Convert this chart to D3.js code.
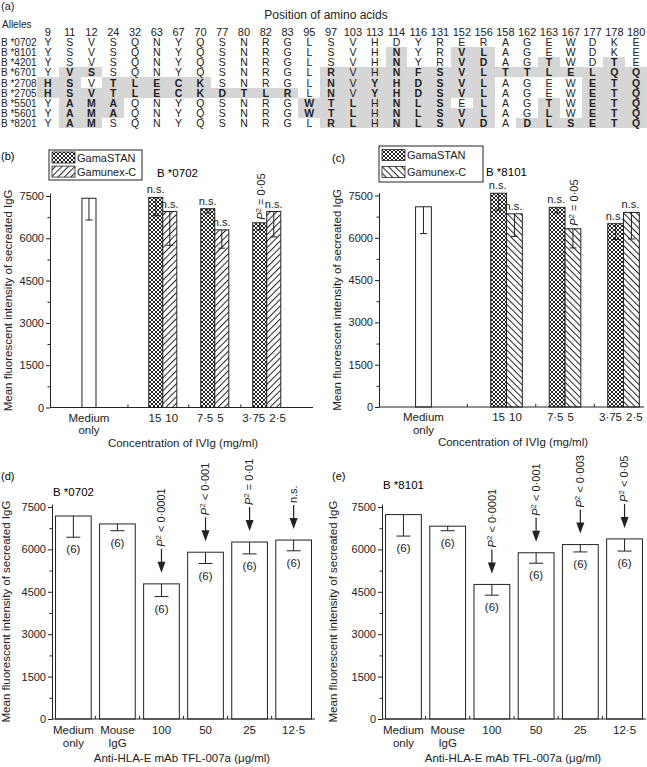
<!DOCTYPE html>
<html><head><meta charset="utf-8">
<script src="https://cdn.jsdelivr.net/npm/d3@7"></script>
<style>body{margin:0;background:#fff}</style>
</head><body><svg id="c" width="647" height="767"></svg>
<script>
// ---------- DATA ----------
const positions = ["9","11","12","24","32","63","67","70","77","80","82","83","95","97","103","113","114","116","131","152","156","158","162","163","167","177","178","180"];
const alleles = ["B *0702","B *8101","B *4201","B *6701","B *2708","B *2705","B *5501","B *5601","B *8201"];
const residues = [
  "YSVSQNYQSNRGLSVHDYRERAGEWDKE",
  "YSVSQNYQSNRGLSVHNYRVLAGEWDKE",
  "YSVSQNYQSNRGLSVHNYRVDAGTWDTE",
  "YVSSQNYQSNRGLRVHNFSVLTTLELQQ",
  "HSVTLECKSNRGLNVYHDSVLAGEWETQ",
  "HSVTLECKDTLRLNVYHDSVLAGEWETQ",
  "YAMAQNYQSNRGWTLHNLSELAGTWETQ",
  "YAMAQNYQSNRGWTLHNLSVLAGLWETQ",
  "YAMSQNYQSNRGLRLHNLSVDADLSETQ"
];
// 0 = plain, 1 = shaded + bold, 2 = shaded + regular
const highlight = [
  "0000000000000000000000000000",
  "0000000000000000100110000000",
  "0000000000000000100110010010",
  "0110000000000122111111111111",
  "1101111100000121111110000111",
  "1111111111110121111110000111",
  "0111000000001112111010010111",
  "0111000000001112111110010111",
  "0110000000000112111110111111"
];

const gamaConc = ["15","7·5","3·75"];
const gamunexConc = ["10","5","2·5"];
const legendLabels = ["GamaSTAN","Gamunex-C"];

const mediumB = [7420];
const mediumErrB = [770];
const gamaB = [7450, 7050, 6550];
const gamaErrB = [650, 150, 250];
const gamunexB = [6950, 6300, 6950];
const gamunexErrB = [1200, 650, 900];
const notesGamaB = ["n.s.", "n.s.", "P² = 0·05"];
const notesGamunexB = ["n.s.", "n.s.", "n.s."];

const mediumC = [7100];
const mediumErrC = [950];
const gamaC = [7580, 7080, 6500];
const gamaErrC = [600, 200, 560];
const gamunexC = [6850, 6320, 6900];
const gamunexErrC = [800, 680, 940];
const notesGamaC = ["n.s.", "n.s.", "n.s."];
const notesGamunexC = ["n.s.", "P² = 0·05", "n.s."];

const mabCategories = [["Medium","only"],["Mouse","IgG"],["100"],["50"],["25"],["12·5"]];
const mabD = [7180, 6900, 4780, 5900, 6260, 6330];
const mabErrD = [750, 240, 450, 400, 420, 380];
const mabNotesD = ["", "", "P² < 0·0001", "P² < 0·001", "P² = 0·01", "n.s."];
const mabE = [7230, 6820, 4760, 5880, 6170, 6370];
const mabErrE = [760, 160, 380, 370, 260, 430];
const mabNotesE = ["", "", "P² < 0·0001", "P² < 0·001", "P² < 0·003", "P² < 0·05"];
const sampleN = [6, 6, 6, 6, 6, 6];

const yTicks = [0, 1500, 3000, 4500, 6000, 7500];
const yMinorTicks = [750, 2250, 3750, 5250, 6750];

// ---------- SETUP ----------
const FONT = "'Liberation Sans', Arial, Helvetica, sans-serif";
const INK = "#222";
const svg = d3.select("#c").attr("font-family", FONT).style("font-family", FONT);
svg.append("rect").attr("width",647).attr("height",767).attr("fill","#fff");

const defs = svg.append("defs");
const xh = defs.append("pattern").attr("id","xh").attr("width",4).attr("height",4).attr("patternUnits","userSpaceOnUse");
xh.append("rect").attr("width",4).attr("height",4).attr("fill","#fff");
xh.append("path").attr("d","M0,0L4,4M4,0L0,4").attr("stroke",INK).attr("stroke-width",1);
function diag(id, angle) {
  const p = defs.append("pattern").attr("id",id).attr("width",4.6).attr("height",4.6)
    .attr("patternUnits","userSpaceOnUse").attr("patternTransform",`rotate(${angle})`);
  p.append("rect").attr("width",4.6).attr("height",4.6).attr("fill","#fff");
  p.append("line").attr("x1",0.5).attr("x2",0.5).attr("y1",0).attr("y2",4.6).attr("stroke",INK).attr("stroke-width",1);
}
diag("fwd", 45);
diag("bwd", -45);

function richText(sel, str) {
  if (str.startsWith("P²")) {
    sel.append("tspan").attr("font-style","italic").text("P");
    sel.append("tspan").attr("dy",-4).attr("font-size",8).text("2");
    sel.append("tspan").attr("dy",4).text(str.slice(2));
  } else sel.text(str);
}

// ---------- PANEL A ----------
(function(){
  const g = svg.append("g").attr("fill", INK);
  g.append("text").attr("x",1).attr("y",10).attr("font-size",11).text("(a)");
  g.append("text").attr("x",326).attr("y",19).attr("text-anchor","middle").attr("font-size",12).text("Position of amino acids");
  g.append("text").attr("x",2).attr("y",28).attr("font-size",10).text("Alleles");
  const colX = d3.scaleBand().domain(positions).range([37,647]);
  const rowY = d3.scaleBand().domain(alleles).range([37,128]);
  const bw = colX.bandwidth(), bh = rowY.bandwidth();
  const cells = alleles.flatMap((a,i)=>positions.map((p,j)=>({a, p, r:residues[i][j], m:highlight[i][j]})));
  g.selectAll("rect.cell").data(cells.filter(c=>c.m!=="0")).join("rect")
    .attr("x",d=>colX(d.p)).attr("y",d=>rowY(d.a)).attr("width",bw).attr("height",bh)
    .attr("fill","#d6d6d6").attr("shape-rendering","crispEdges");
  g.selectAll("text.hdr").data(positions).join("text")
    .attr("x",d=>colX(d)+bw/2).attr("y",36).attr("text-anchor","middle").attr("font-size",11).text(d=>d);
  g.selectAll("text.res").data(cells).join("text")
    .attr("x",d=>colX(d.p)+bw/2).attr("y",d=>rowY(d.a)+bh/2+4).attr("text-anchor","middle")
    .attr("font-size",10.5).attr("font-weight",d=>d.m==="1"?"bold":"normal").text(d=>d.r);
  g.selectAll("text.al").data(alleles).join("text")
    .attr("x",1).attr("y",d=>rowY(d)+bh/2+4).attr("font-size",10).text(d=>d);
})();

// ---------- helpers ----------
function yAxisDraw(g, y, x0) {
  const ax = g.append("g").attr("transform",`translate(${x0},0)`)
    .call(d3.axisLeft(y).tickValues(yTicks).tickFormat(d3.format("d")).tickSize(4).tickSizeOuter(0).tickPadding(2));
  ax.selectAll("text").attr("font-size",11).attr("fill",INK).attr("font-family",FONT);
  ax.selectAll("line,path").attr("stroke",INK);
  const mn = g.append("g").attr("transform",`translate(${x0},0)`)
    .call(d3.axisLeft(y).tickValues(yMinorTicks).tickSize(2.5).tickFormat(""));
  mn.select("path").remove();
  mn.selectAll("line").attr("stroke",INK);
}
function yTitle(g, x, yc) {
  g.append("text").attr("transform",`translate(${x},${yc}) rotate(-90)`).attr("text-anchor","middle")
    .attr("dy","0.35em").attr("font-size",11.5).attr("fill",INK).text("Mean fluorescent intensity of secreated IgG");
}

// ---------- PANELS B, C ----------
function ivigPanel(cfg) {
  const g = svg.append("g");
  const y = d3.scaleLinear().domain([0,7600]).range([cfg.y0, cfg.y0 - 7600*cfg.k]);
  const x = d3.scaleLinear().domain(cfg.slots).range([cfg.left, cfg.right]);
  const slot = [1.42, 2.42, 3.42];
  const w = x(0.27) - x(0);
  g.append("text").attr("x",cfg.tagX).attr("y",cfg.tagY).attr("font-size",11).text(cfg.tag);
  g.append("text").attr("x",cfg.titleX).attr("y",cfg.titleY).attr("font-size",11.5).text(cfg.title);
  // legend
  const L = cfg.legend;
  g.append("rect").attr("x",L[0]).attr("y",L[1]).attr("width",L[2]-L[0]).attr("height",L[3]-L[1])
    .attr("fill","#fff").attr("stroke",INK);
  const rowsC = [L[1]+(L[3]-L[1])*0.25, L[1]+(L[3]-L[1])*0.72];
  legendLabels.forEach((lab,i)=>{
    g.append("rect").attr("x",L[0]+3).attr("y",rowsC[i]-5.5).attr("width",23).attr("height",11)
      .attr("fill", i===0?"url(#xh)":`url(#${cfg.pat})`).attr("stroke",INK).attr("stroke-width",0.8);
    g.append("text").attr("x",L[0]+28).attr("y",rowsC[i]+4).attr("font-size",11).attr("fill",INK).text(lab);
  });
  // bars
  const bars = [];
  bars.push({x0: x(0)-w/2, v: cfg.medium[0], e: cfg.mediumErr[0], fill:"#fff"});
  cfg.gama.forEach((v,i)=>bars.push({x0: x(slot[i])-w, v, e: cfg.gamaErr[i], fill:"url(#xh)", note: cfg.notesGama[i],
    lab: gamaConc[i], lx: x(slot[i])-1.5, anchor:"end"}));
  cfg.gamunex.forEach((v,i)=>bars.push({x0: x(slot[i]), v, e: cfg.gamunexErr[i], fill:`url(#${cfg.pat})`, note: cfg.notesGamunex[i],
    lab: gamunexConc[i], lx: x(slot[i])+2.5, anchor:"start"}));
  g.selectAll("rect.bar").data(bars).join("rect")
    .attr("x",d=>d.x0).attr("y",d=>y(d.v)).attr("width",w).attr("height",d=>y(0)-y(d.v))
    .attr("fill",d=>d.fill).attr("stroke",INK).attr("stroke-width",1);
  bars.forEach(d=>{
    const cx = d.x0 + w/2;
    g.append("line").attr("x1",cx).attr("x2",cx).attr("y1",y(d.v)).attr("y2",y(d.v-d.e)).attr("stroke",INK);
    g.append("line").attr("x1",cx-3.5).attr("x2",cx+3.5).attr("y1",y(d.v-d.e)).attr("y2",y(d.v-d.e)).attr("stroke",INK);
    if (d.note) {
      if (d.note.startsWith("P²")) {
        const t = g.append("text").attr("transform",`translate(${cx+1},${y(d.v)-3}) rotate(-90)`)
          .attr("dy","0.35em").attr("font-size",11).attr("fill",INK);
        richText(t, d.note);
      } else {
        g.append("text").attr("x",d.x0-2).attr("y",y(d.v)-4).attr("font-size",11).attr("fill",INK).text(d.note);
      }
    }
    if (d.lab) g.append("text").attr("x",d.lx).attr("y",cfg.y0+14).attr("text-anchor",d.anchor).attr("font-size",11.5).attr("fill",INK).text(d.lab);
  });
  ["Medium","only"].forEach((t,i)=>g.append("text").attr("x",x(0)).attr("y",cfg.y0+14+i*12.5)
    .attr("text-anchor","middle").attr("font-size",11.5).attr("fill",INK).text(t));
  // axes
  yAxisDraw(g, y, cfg.left);
  g.append("line").attr("x1",cfg.left).attr("x2",cfg.right).attr("y1",cfg.y0).attr("y2",cfg.y0).attr("stroke",INK);
  [0.75, 1.92, 2.92].forEach(s=>g.append("line").attr("x1",x(s)).attr("x2",x(s)).attr("y1",cfg.y0).attr("y2",cfg.y0-3).attr("stroke",INK));
  g.append("text").attr("x",cfg.xTitleX).attr("y",cfg.y0+39).attr("text-anchor","middle").attr("font-size",11.5).attr("fill",INK)
    .text("Concentration of IVIg (mg/ml)");
  yTitle(g, cfg.yTitleX, (y(0)+y(7600))/2);
}

ivigPanel({tag:"(b)", tagX:1, tagY:160, title:"B *0702", titleX:157, titleY:177,
  left:50, right:313, y0:407.5, k:0.0282, slots:[-0.75, 4.31], pat:"fwd",
  legend:[49,150,142,180], medium:mediumB, mediumErr:mediumErrB,
  gama:gamaB, gamaErr:gamaErrB, gamunex:gamunexB, gamunexErr:gamunexErrB,
  notesGama:notesGamaB, notesGamunex:notesGamunexB, xTitleX:183, yTitleX:8});
ivigPanel({tag:"(c)", tagX:332, tagY:162, title:"B *8101", titleX:486, titleY:176,
  left:379, right:644, y0:407, k:0.0282, slots:[-0.76, 3.77], pat:"bwd",
  legend:[379,146,483,182], medium:mediumC, mediumErr:mediumErrC,
  gama:gamaC, gamaErr:gamaErrC, gamunex:gamunexC, gamunexErr:gamunexErrC,
  notesGama:notesGamaC, notesGamunex:notesGamunexC, xTitleX:513, yTitleX:337});

// ---------- PANELS D, E ----------
function mabPanel(cfg) {
  const g = svg.append("g");
  const y = d3.scaleLinear().domain([0,7600]).range([cfg.y0, cfg.y0 - 7600*cfg.k]);
  const keys = mabCategories.map(c=>c.join(" "));
  const x = d3.scaleBand().domain(keys).range([cfg.left, cfg.right]).paddingInner(0.19).paddingOuter(0.08);
  const w = x.bandwidth();
  g.append("text").attr("x",cfg.tagX).attr("y",cfg.tagY).attr("font-size",11).text(cfg.tag);
  g.append("text").attr("x",cfg.titleX).attr("y",cfg.titleY).attr("font-size",11.5).text(cfg.title);
  const bars = cfg.vals.map((v,i)=>({k:keys[i], v, e:cfg.errs[i], note:cfg.notes[i], n:sampleN[i], lab:mabCategories[i]}));
  g.selectAll("rect.bar").data(bars).join("rect")
    .attr("x",d=>x(d.k)).attr("y",d=>y(d.v)).attr("width",w).attr("height",d=>y(0)-y(d.v))
    .attr("fill","#fff").attr("stroke",INK).attr("stroke-width",1);
  bars.forEach(d=>{
    const cx = x(d.k)+w/2, eb = y(d.v-d.e);
    g.append("line").attr("x1",cx).attr("x2",cx).attr("y1",y(d.v)).attr("y2",eb).attr("stroke",INK);
    g.append("line").attr("x1",cx-7).attr("x2",cx+7).attr("y1",eb).attr("y2",eb).attr("stroke",INK);
    g.append("text").attr("x",cx).attr("y",eb+16).attr("text-anchor","middle").attr("font-size",11.5).attr("fill",INK).text(`(${d.n})`);
    d.lab.forEach((t,i)=>g.append("text").attr("x",cx).attr("y",cfg.y0+15+i*13).attr("text-anchor","middle")
      .attr("font-size",11.5).attr("fill",INK).text(t));
    if (d.note) {
      const tip = y(d.v) - 11, top = tip - 24;
      g.append("line").attr("x1",cx).attr("x2",cx).attr("y1",top).attr("y2",tip-8).attr("stroke",INK).attr("stroke-width",1.2);
      g.append("path").attr("d",`M${cx-4},${tip-11}L${cx+4},${tip-11}L${cx},${tip}Z`).attr("fill",INK);
      const t = g.append("text").attr("transform",`translate(${cx},${top-2}) rotate(-90)`)
        .attr("dy","0.35em").attr("font-size",11).attr("fill",INK);
      richText(t, d.note);
    }
  });
  yAxisDraw(g, y, cfg.left);
  g.append("line").attr("x1",cfg.left).attr("x2",cfg.right).attr("y1",cfg.y0).attr("y2",cfg.y0).attr("stroke",INK);
  const step = x.step(), gap = step - w;
  keys.slice(1).forEach(k=>{
    const tx = x(k) - gap/2;
    g.append("line").attr("x1",tx).attr("x2",tx).attr("y1",cfg.y0).attr("y2",cfg.y0-3).attr("stroke",INK);
  });
  g.append("text").attr("x",cfg.xTitleX).attr("y",cfg.y0+43).attr("text-anchor","middle").attr("font-size",11.5).attr("fill",INK)
    .text("Anti-HLA-E mAb TFL-007a (μg/ml)");
  yTitle(g, cfg.yTitleX, (y(0)+y(7600))/2);
}

mabPanel({tag:"(d)", tagX:1, tagY:480, title:"B *0702", titleX:53, titleY:496,
  left:52, right:315, y0:719, k:0.02827, vals:mabD, errs:mabErrD, notes:mabNotesD,
  xTitleX:182, yTitleX:6});
mabPanel({tag:"(e)", tagX:332, tagY:480, title:"B *8101", titleX:383, titleY:489,
  left:382, right:646, y0:719, k:0.02827, vals:mabE, errs:mabErrE, notes:mabNotesE,
  xTitleX:513, yTitleX:333});
</script>
</body></html>
